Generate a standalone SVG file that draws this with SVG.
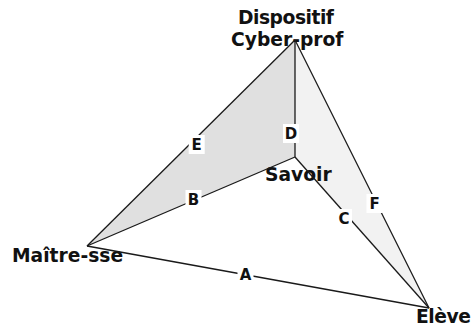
<svg xmlns="http://www.w3.org/2000/svg" width="472" height="327" viewBox="0 0 472 327">
<style>
.t{font-family:"DejaVu Sans",Verdana,sans-serif;font-weight:bold;font-size:18.7px;fill:#111}
.l{font-family:"DejaVu Sans",Verdana,sans-serif;font-weight:bold;font-size:15px;fill:#111;text-anchor:middle}
.e{stroke:#1a1a1a;stroke-width:1.3;fill:none}
.bg{fill:#fff}
</style>
<rect width="472" height="327" fill="#fff"/>
<g id="regions">
<polygon points="295,40 87,246 295,157" fill="#e0e0e0"/>
<polygon points="295,40 295,157 429,308" fill="#f2f2f2"/>
</g>
<g id="dispositif"><text class="t" x="238" y="24" textLength="96">Dispositif</text><text class="t" x="231" y="46">Cyber-prof</text></g>
<g id="maitre"><text class="t" x="12" y="262">Maître-sse</text></g>
<g id="savoir"><text class="t" x="265" y="181">Savoir</text></g>
<g id="eleve"><text class="t" x="416" y="323" textLength="55">Elève</text></g>
<g id="connectors">
<line class="e" x1="295" y1="40" x2="87" y2="246"/>
<line class="e" x1="87" y1="246" x2="295" y2="157"/>
<line class="e" x1="295" y1="40" x2="295" y2="157"/>
<line class="e" x1="295" y1="157" x2="429" y2="308"/>
<line class="e" x1="295" y1="40" x2="429" y2="308"/>
<line class="e" x1="87" y1="246" x2="429" y2="308"/>
<g id="lblA"><rect class="bg" x="237.5" y="265" width="16" height="19"/><text class="l" x="245.5" y="280">A</text></g>
<g id="lblB"><rect class="bg" x="185.5" y="190" width="16" height="19"/><text class="l" x="193.5" y="204.5">B</text></g>
<g id="lblC"><rect class="bg" x="336" y="209" width="16" height="19"/><text class="l" x="344" y="223.5">C</text></g>
<g id="lblD"><rect class="bg" x="283" y="124" width="16" height="19"/><text class="l" x="291" y="139">D</text></g>
<g id="lblE"><rect class="bg" x="188.7" y="135" width="16" height="19"/><text class="l" x="196.7" y="150">E</text></g>
<g id="lblF"><rect class="bg" x="366.5" y="194" width="16" height="19"/><text class="l" x="374.5" y="209">F</text></g>
</g>
</svg>
